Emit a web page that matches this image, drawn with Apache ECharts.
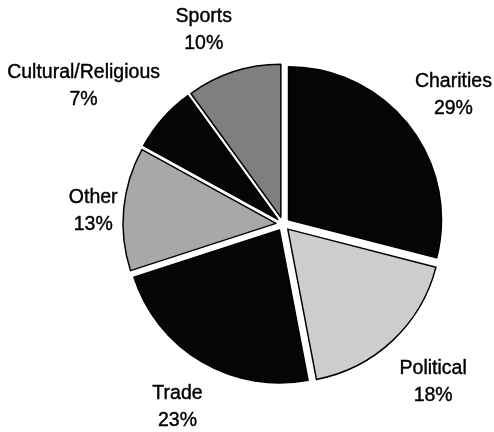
<!DOCTYPE html>
<html>
<head>
<meta charset="utf-8">
<script src="https://cdn.jsdelivr.net/npm/echarts@6/dist/echarts.min.js"></script>
<style>
  html, body { margin: 0; padding: 0; background: #fff; }
  #chart { width: 494px; height: 432px; }
</style>
</head>
<body>
<div id="chart"></div>
<script>
// Membership share by organisation type (%)
const categories = ['Charities', 'Political', 'Trade', 'Other', 'Cultural/Religious', 'Sports'];
const shares = [29, 18, 23, 13, 7, 10];
const fills = ['#050505', '#cdcdcd', '#050505', '#a8a8a8', '#050505', '#7f7f7f'];
// per-slice label placement along the slice's radial direction (length) and sideways (length2)
const labelLen = [50, 57, 53, -22, 48, 44];
const labelLen2 = [-39, -37, -33, 23, -38, -17];

const data = categories.map((name, i) => ({
  name: name,
  value: shares[i],
  selected: true,
  itemStyle: { color: fills[i] },
  labelLine: { length: labelLen[i], length2: labelLen2[i] }
}));

const chart = echarts.init(document.getElementById('chart'), null, { renderer: 'canvas' });
chart.setOption({
  backgroundColor: '#ffffff',
  animation: false,
  series: [{
    type: 'pie',
    center: [283, 224],
    radius: 153,
    startAngle: 90,
    clockwise: true,
    selectedMode: 'multiple',
    selectedOffset: 7,
    avoidLabelOverlap: false,
    silent: true,
    itemStyle: { borderColor: '#000000', borderWidth: 1.5 },
    select: { itemStyle: { borderColor: '#000000', borderWidth: 1.5 } },
    label: {
      show: true,
      position: 'outside',
      formatter: p => '{t|' + p.name + '}\n{t|' + p.value + '%}',
      rich: {
        t: {
          align: 'center',
          fontFamily: '"Liberation Sans", Arial, sans-serif',
          fontSize: 19.5,
          lineHeight: 27,
          color: '#000000',
          textBorderColor: '#000000',
          textBorderWidth: 0.4
        }
      }
    },
    labelLine: { show: false },
    data: data
  }]
});
</script>
</body>
</html>
